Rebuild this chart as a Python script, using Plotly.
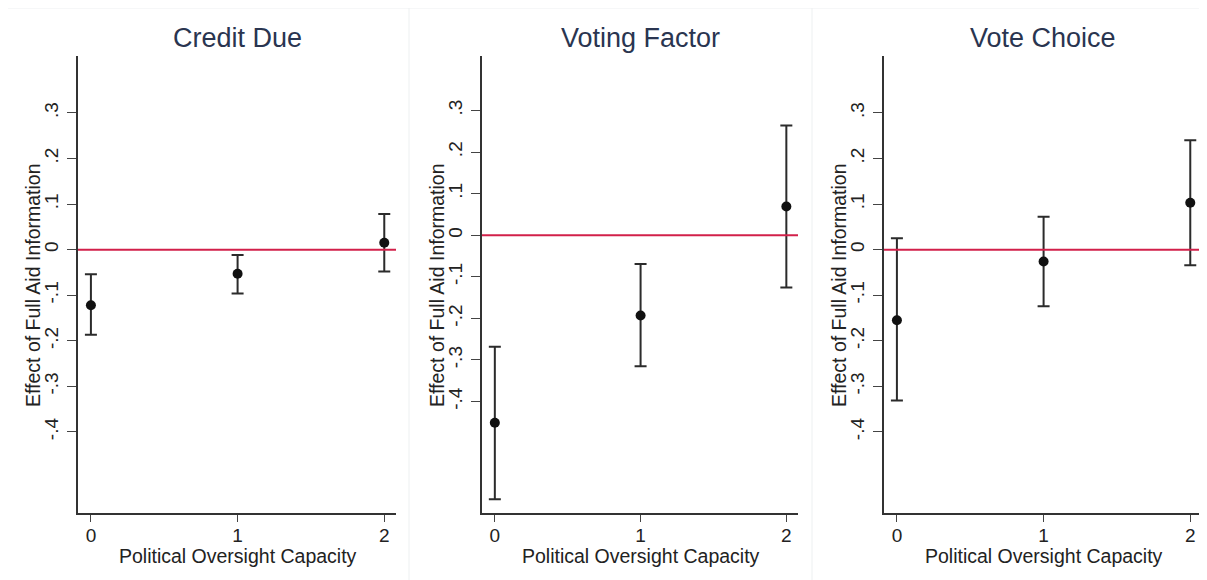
import plotly.graph_objects as go

# ---- data ----
categories = [0, 1, 2]
panel_titles = ["Credit Due", "Voting Factor", "Vote Choice"]

credit_est = [-0.122, -0.053, 0.015]
credit_lo = [-0.187, -0.096, -0.048]
credit_hi = [-0.054, -0.012, 0.078]

voting_est = [-0.451, -0.193, 0.069]
voting_lo = [-0.635, -0.315, -0.126]
voting_hi = [-0.268, -0.069, 0.264]

choice_est = [-0.155, -0.026, 0.103]
choice_lo = [-0.331, -0.124, -0.034]
choice_hi = [0.025, 0.072, 0.240]

ytick_vals = [-0.4, -0.3, -0.2, -0.1, 0, 0.1, 0.2, 0.3]
ytick_text = ["-.4", "-.3", "-.2", "-.1", "0", ".1", ".2", ".3"]
xtick_vals = [0, 1, 2]
xtick_text = ["0", "1", "2"]

y_ranges = [[-0.578, 0.425], [-0.668, 0.431], [-0.578, 0.425]]
x_range = [-0.088, 2.08]

# page has an 8px body margin: work in reference pixels, shift by OFF
OFF = 8
W, H = 1207 - OFF, 580 - OFF
x_domains_px = [(78, 396), (482, 798), (884, 1202)]
y_top_px, y_bot_px = 56, 513


def px(v):
    return (v - OFF) / W


def py(v):
    return 1 - (v - OFF) / H


series = [
    (credit_est, credit_lo, credit_hi),
    (voting_est, voting_lo, voting_hi),
    (choice_est, choice_lo, choice_hi),
]

FONT = "Liberation Sans, Arial, sans-serif"
fig = go.Figure()
layout = dict(
    width=W, height=H,
    margin=dict(l=0, r=0, t=0, b=0),
    paper_bgcolor="white", plot_bgcolor="white",
    showlegend=False,
    font=dict(family=FONT, color="#222222"),
)

annotations = []
shapes = []
for i, (est, lo, hi) in enumerate(series):
    n = i + 1
    xa = "x" if n == 1 else f"x{n}"
    ya = "y" if n == 1 else f"y{n}"
    up = [h - e for h, e in zip(hi, est)]
    dn = [e - l for e, l in zip(est, lo)]
    fig.add_trace(go.Scatter(
        x=categories, y=est, mode="markers",
        marker=dict(color="#111111", size=10),
        error_y=dict(type="data", symmetric=False, array=up, arrayminus=dn,
                     color="#2b2b2b", thickness=2, width=6),
        xaxis=xa, yaxis=ya, cliponaxis=False,
    ))
    x0p, x1p = x_domains_px[i]
    dom_x = [px(x0p), min(1.0, px(x1p))]
    dom_y = [py(y_bot_px), py(y_top_px)]
    layout[f"xaxis{'' if n == 1 else n}"] = dict(
        domain=dom_x, range=x_range, anchor=ya,
        tickvals=xtick_vals, ticktext=xtick_text,
        ticks="outside", ticklen=7, tickwidth=1.2, tickcolor="#444444",
        ticklabelstandoff=-3,
        showline=True, linecolor="#333333", linewidth=1.5,
        showgrid=False, zeroline=False,
        tickfont=dict(size=19, color="#222222", family=FONT),
    )
    layout[f"yaxis{'' if n == 1 else n}"] = dict(
        domain=dom_y, range=y_ranges[i], anchor=xa,
        tickvals=ytick_vals, ticktext=ytick_text, tickangle=-90,
        ticks="outside", ticklen=9, tickwidth=1.2, tickcolor="#444444",
        ticklabelstandoff=2,
        showline=True, linecolor="#333333", linewidth=1.5,
        showgrid=False, zeroline=False,
        tickfont=dict(size=19, color="#222222", family=FONT),
    )
    # zero reference line
    shapes.append(dict(type="line", xref=f"{xa} domain", yref=ya,
                       x0=0, x1=1, y0=0, y1=0,
                       line=dict(color="#d2204a", width=2), layer="above"))
    cx = px((x0p + x1p) / 2)
    annotations.append(dict(text=panel_titles[i], x=cx, y=py(38),
                            xref="paper", yref="paper", showarrow=False,
                            xanchor="center", yanchor="middle",
                            font=dict(size=27, color="#2a3550", family=FONT)))
    annotations.append(dict(text="Effect of Full Aid Information",
                            x=px(x0p - 45), y=py(285),
                            xref="paper", yref="paper", showarrow=False,
                            textangle=-90, xanchor="center", yanchor="middle",
                            font=dict(size=19.5, color="#222222", family=FONT)))
    annotations.append(dict(text="Political Oversight Capacity",
                            x=px((x0p + x1p) / 2 + 1), y=py(556),
                            xref="paper", yref="paper", showarrow=False,
                            xanchor="center", yanchor="middle",
                            font=dict(size=19.5, color="#222222", family=FONT)))

# faint panel frame lines
frame = dict(color="#edf0f1", width=1)
shapes.append(dict(type="line", xref="paper", yref="paper",
                   x0=0, x1=1, y0=py(8), y1=py(8), line=frame, layer="below"))
for xv in (409, 812):
    shapes.append(dict(type="line", xref="paper", yref="paper",
                       x0=px(xv), x1=px(xv), y0=0, y1=py(8), line=frame,
                       layer="below"))

layout["annotations"] = annotations
layout["shapes"] = shapes
fig.update_layout(**layout)
fig.write_html("out.html")
